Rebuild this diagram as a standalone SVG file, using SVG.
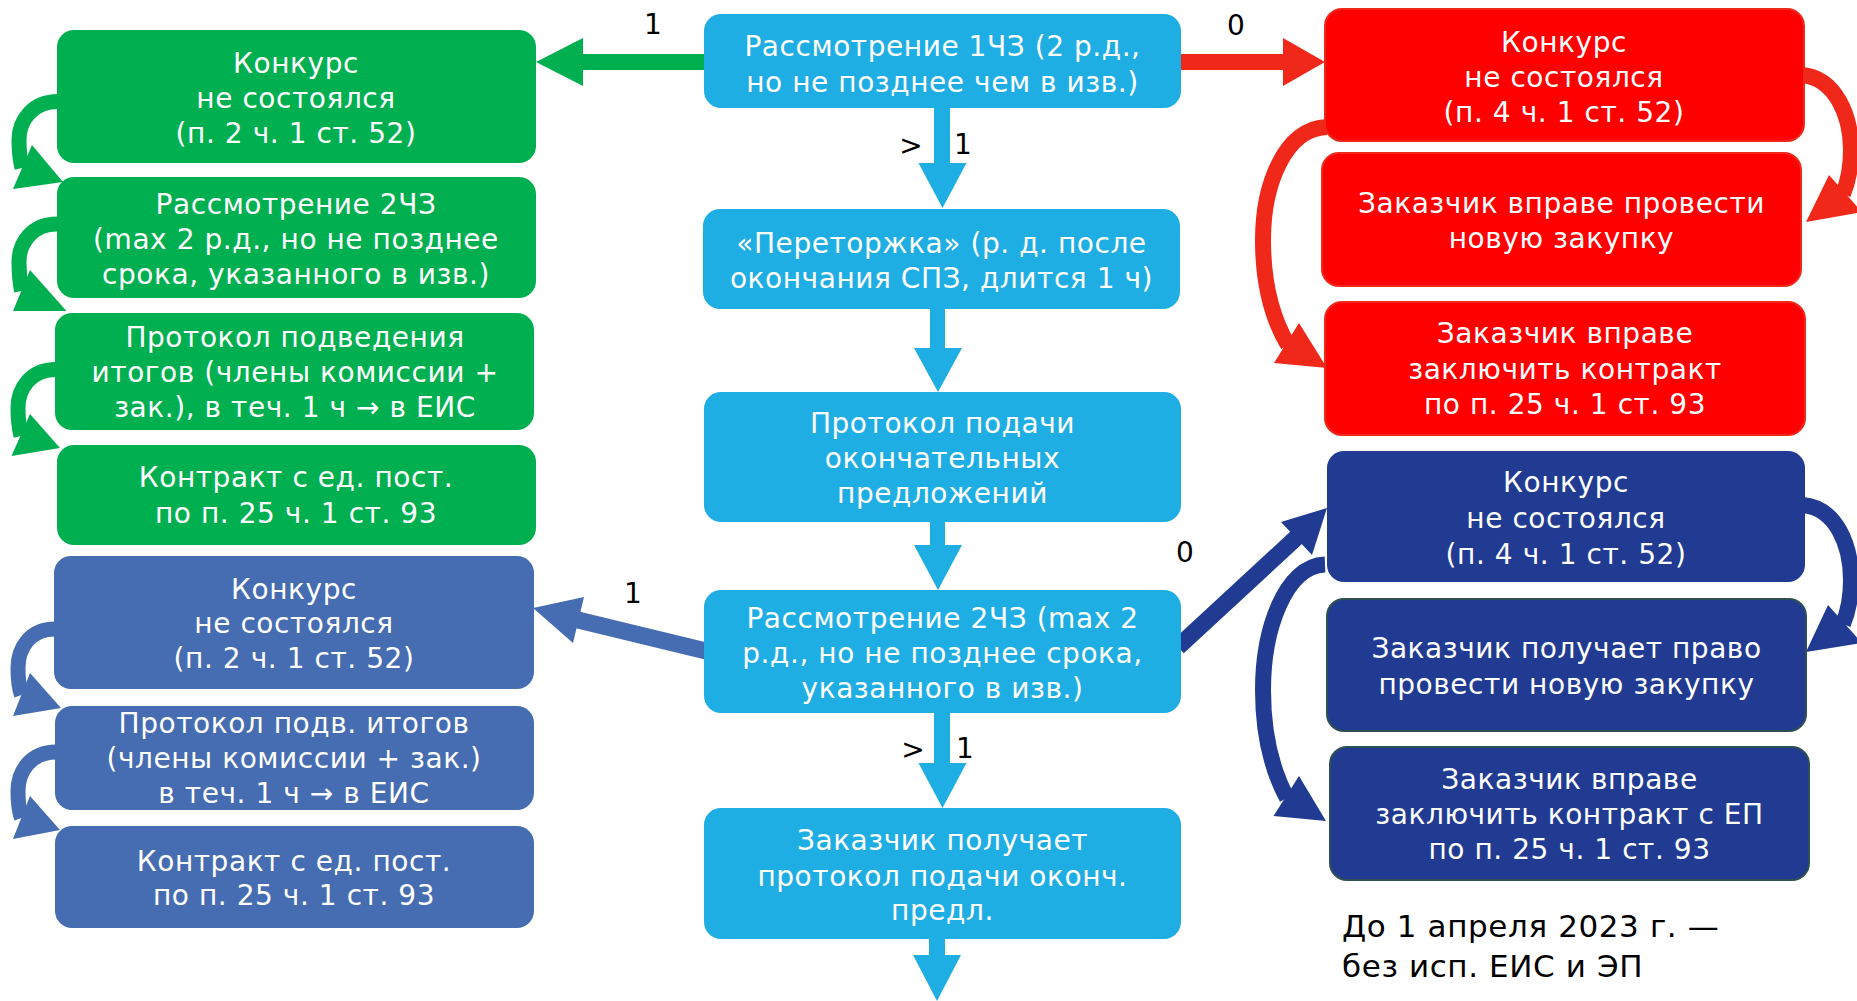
<svg xmlns="http://www.w3.org/2000/svg" width="1857" height="1001" viewBox="0 0 1857 1001">
<style>
.t{font-family:"DejaVu Sans",Verdana,sans-serif;font-size:28px;letter-spacing:0.55px;fill:#fff;text-anchor:middle}
.lbl{font-family:"DejaVu Sans",Verdana,sans-serif;font-size:28px;fill:#000;text-anchor:middle}
.note{font-family:"DejaVu Sans",Verdana,sans-serif;font-size:31px;letter-spacing:0.6px;fill:#000}
.g{fill:#00B050}
.c{fill:#1FAEE4}
.b{fill:#466CB1}
.r{fill:#FF0000;stroke:#F0281A;stroke-width:2}
.d{fill:#213B93}
.d2{fill:#213B93;stroke:#2F5050;stroke-width:2}
.sg{fill:none;stroke:#00B050;stroke-width:15}
.sb{fill:none;stroke:#466CB1;stroke-width:15}
.sr{fill:none;stroke:#F0281A;stroke-width:16}
.sd{fill:none;stroke:#213B93;stroke-width:16}
.ag{fill:#00B050}
.ab{fill:#466CB1}
.ar{fill:#F0281A}
.ad{fill:#213B93}
.ac{fill:#1FAEE4}
</style>
<rect width="1857" height="1001" fill="#fff"/>
<g id="connectors">
  <rect class="ac" x="934" y="106" width="16" height="58"/>
  <polygon class="ac" points="918.5,163 966.5,163 942.5,208"/>
  <rect class="ac" x="930" y="307" width="15" height="42"/>
  <polygon class="ac" points="914,348 962,348 938,392"/>
  <rect class="ac" x="930" y="519" width="15" height="27"/>
  <polygon class="ac" points="914,545 962,545 938,590"/>
  <rect class="ac" x="934" y="710" width="16" height="54"/>
  <polygon class="ac" points="918.5,763 966.5,763 942.5,808"/>
  <rect class="ac" x="929" y="936" width="16" height="20"/>
  <polygon class="ac" points="913,955 961,955 937,1001"/>
  <rect class="ag" x="582" y="54" width="124" height="16"/>
  <polygon class="ag" points="583,38 583,86 536,62"/>
  <rect class="ar" x="1180" y="54" width="104" height="16"/>
  <polygon class="ar" points="1283,38 1283,86 1325,62"/>
  <line class="sb" x1="706" y1="651" x2="578" y2="620" style="stroke-width:17"/>
  <polygon class="ab" points="584,597 533,608 573,643"/>
  <line class="sd" x1="1178" y1="647" x2="1297" y2="537" style="stroke-width:17"/>
  <polygon class="ad" points="1281,522 1327,508 1312,555"/>
  <path class="sg" d="M58,101.5 C33,101.5 19,120 19,140 C19,152 20,160 22,168"/>
  <polygon class="ag" points="32,145 63,182 13,189"/>
  <path class="sg" d="M57,224 C32,224 19,243 19,262 C19,275 20,283 21.5,291"/>
  <polygon class="ag" points="30,270 66.5,311 13,311"/>
  <path class="sg" d="M56,369.5 C31,369.5 18,388 18,408 C18,420 19,428 21,436"/>
  <polygon class="ag" points="30,414 60,448 11.5,456"/>
  <path class="sb" d="M55,629 C30,629 18,648 18,668 C18,680 19,688 21.5,695"/>
  <polygon class="ab" points="30,673 61,708 13,716"/>
  <path class="sb" d="M56,752 C31,752 18,771 18,791 C18,803 19,811 21.5,818"/>
  <polygon class="ab" points="30,796 60,830 13,839"/>
  <path class="sr" d="M1802,75 C1835,78 1851,115 1851,150 C1851,168 1848,182 1843,194"/>
  <polygon class="ar" points="1829,175 1862,212 1806,222"/>
  <path class="sr" d="M1327,127 C1285,128 1263,185 1263,240 C1263,285 1272,318 1288,345"/>
  <polygon class="ar" points="1299,323 1327,368 1274,363"/>
  <path class="sd" d="M1803,505 C1836,508 1851,545 1851,580 C1851,598 1848,612 1843,624"/>
  <polygon class="ad" points="1828,605 1862,643 1806,652"/>
  <path class="sd" d="M1325,564.5 C1285,566 1263,630 1263,690 C1263,735 1272,770 1287,798"/>
  <polygon class="ad" points="1299,776 1326,821 1273.5,816"/>
  <text class="lbl" x="653" y="34">1</text>
  <text class="lbl" x="1236" y="35">0</text>
  <text class="lbl" x="911" y="155">&gt;</text>
  <text class="lbl" x="963" y="154">1</text>
  <text class="lbl" x="913" y="759">&gt;</text>
  <text class="lbl" x="965" y="758">1</text>
  <text class="lbl" x="633" y="603">1</text>
  <text class="lbl" x="1185" y="562">0</text>
</g>
<g id="g1"><rect class="g" x="57" y="30" width="479" height="133" rx="17"/>
  <text class="t" x="296" y="73">Конкурс</text><text class="t" x="296" y="108">не состоялся</text><text class="t" x="296" y="143">(п. 2 ч. 1 ст. 52)</text></g>
<g id="g2"><rect class="g" x="57" y="177" width="479" height="121" rx="17"/>
  <text class="t" x="296" y="214">Рассмотрение 2ЧЗ</text><text class="t" x="296" y="249">(max 2 р.д., но не позднее</text><text class="t" x="296" y="284">срока, указанного в изв.)</text></g>
<g id="g3"><rect class="g" x="55" y="313" width="479" height="117" rx="17"/>
  <text class="t" x="295" y="347">Протокол подведения</text><text class="t" x="295" y="382">итогов (члены комиссии +</text><text class="t" x="295" y="417">зак.), в теч. 1 ч → в ЕИС</text></g>
<g id="g4"><rect class="g" x="57" y="445" width="479" height="100" rx="17"/>
  <text class="t" x="296" y="487">Контракт с ед. пост.</text><text class="t" x="296" y="523">по п. 25 ч. 1 ст. 93</text></g>
<g id="b1"><rect class="b" x="54" y="556" width="480" height="133" rx="17"/>
  <text class="t" x="294" y="599">Конкурс</text><text class="t" x="294" y="633">не состоялся</text><text class="t" x="294" y="668">(п. 2 ч. 1 ст. 52)</text></g>
<g id="b2"><rect class="b" x="55" y="706" width="479" height="104" rx="17"/>
  <text class="t" x="294" y="733">Протокол подв. итогов</text><text class="t" x="294" y="768">(члены комиссии + зак.)</text><text class="t" x="294" y="803">в теч. 1 ч → в ЕИС</text></g>
<g id="b3"><rect class="b" x="55" y="826" width="479" height="102" rx="17"/>
  <text class="t" x="294" y="871">Контракт с ед. пост.</text><text class="t" x="294" y="905">по п. 25 ч. 1 ст. 93</text></g>
<g id="c1"><rect class="c" x="704" y="14" width="477" height="94" rx="17"/>
  <text class="t" x="942.5" y="56">Рассмотрение 1ЧЗ (2 р.д.,</text><text class="t" x="942.5" y="92">но не позднее чем в изв.)</text></g>
<g id="c2"><rect class="c" x="703" y="209" width="477" height="100" rx="17"/>
  <text class="t" x="941.5" y="253">«Переторжка» (р. д. после</text><text class="t" x="941.5" y="288">окончания СПЗ, длится 1 ч)</text></g>
<g id="c3"><rect class="c" x="704" y="392" width="477" height="130" rx="17"/>
  <text class="t" x="942.5" y="433">Протокол подачи</text><text class="t" x="942.5" y="468">окончательных</text><text class="t" x="942.5" y="503">предложений</text></g>
<g id="c4"><rect class="c" x="704" y="590" width="477" height="123" rx="17"/>
  <text class="t" x="942.5" y="628">Рассмотрение 2ЧЗ (max 2</text><text class="t" x="942.5" y="663">р.д., но не позднее срока,</text><text class="t" x="942.5" y="698">указанного в изв.)</text></g>
<g id="c5"><rect class="c" x="704" y="808" width="477" height="131" rx="17"/>
  <text class="t" x="942.5" y="850">Заказчик получает</text><text class="t" x="942.5" y="886">протокол подачи оконч.</text><text class="t" x="942.5" y="920">предл.</text></g>
<g id="r1"><rect class="r" x="1325" y="9" width="479" height="132" rx="17"/>
  <text class="t" x="1564" y="52">Конкурс</text><text class="t" x="1564" y="87">не состоялся</text><text class="t" x="1564" y="122">(п. 4 ч. 1 ст. 52)</text></g>
<g id="r2"><rect class="r" x="1322" y="153" width="479" height="133" rx="17"/>
  <text class="t" x="1561.5" y="213">Заказчик вправе провести</text><text class="t" x="1561.5" y="248">новую закупку</text></g>
<g id="r3"><rect class="r" x="1325" y="302" width="480" height="133" rx="17"/>
  <text class="t" x="1565" y="343">Заказчик вправе</text><text class="t" x="1565" y="379">заключить контракт</text><text class="t" x="1565" y="414">по п. 25 ч. 1 ст. 93</text></g>
<g id="d1"><rect class="d" x="1327" y="451" width="478" height="131" rx="17"/>
  <text class="t" x="1566" y="492">Конкурс</text><text class="t" x="1566" y="528">не состоялся</text><text class="t" x="1566" y="564">(п. 4 ч. 1 ст. 52)</text></g>
<g id="d2"><rect class="d2" x="1327" y="599" width="479" height="132" rx="17"/>
  <text class="t" x="1566.5" y="658">Заказчик получает право</text><text class="t" x="1566.5" y="694">провести новую закупку</text></g>
<g id="d3"><rect class="d2" x="1330" y="747" width="479" height="133" rx="17"/>
  <text class="t" x="1569.5" y="789">Заказчик вправе</text><text class="t" x="1569.5" y="824">заключить контракт с ЕП</text><text class="t" x="1569.5" y="859">по п. 25 ч. 1 ст. 93</text></g>
<g id="note"><text class="note" x="1342" y="937">До 1 апреля 2023 г. —</text><text class="note" x="1342" y="977">без исп. ЕИС и ЭП</text></g>
</svg>
